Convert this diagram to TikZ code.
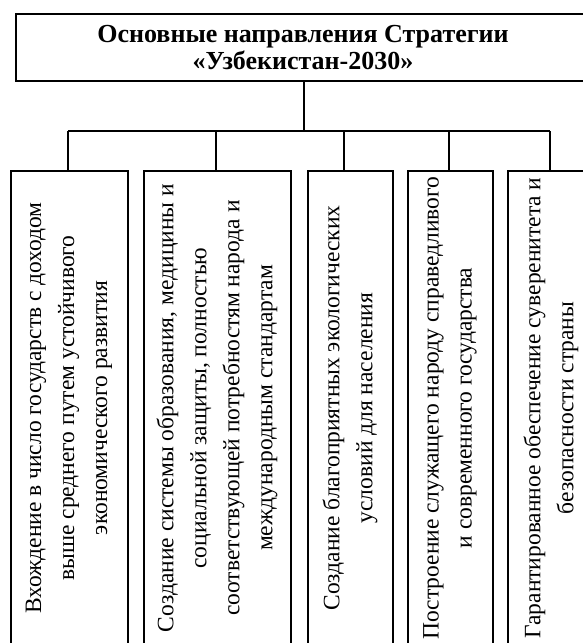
\documentclass[tikz,border=0pt]{standalone}
\usepackage{fontspec}
\setmainfont{Liberation Serif}
\begin{document}
\begin{tikzpicture}[x=1pt,y=-1pt,
  box/.style={draw, line width=1.9pt, inner sep=0pt, anchor=north west},
  conn/.style={line width=1.3pt},
  vtext/.style={rotate=90, align=center, inner sep=0pt, font=\fontsize{23.5}{33}\selectfont}]
\useasboundingbox (0,0) rectangle (583,643);
\clip (0,0) rectangle (583,643);
\node[box, minimum width=576pt, minimum height=67pt] (title) at (15,13) {};
\node[font=\bfseries\fontsize{26}{27}\selectfont, align=center, inner sep=0pt] (ttl) at (303,48) {Основные направления Стратегии\\«Узбекистан-2030»};
\node[box, minimum width=117pt, minimum height=476pt] (b1) at (10,170) {};
\node[box, minimum width=147pt, minimum height=476pt] (b2) at (143,170) {};
\node[box, minimum width=85pt, minimum height=476pt] (b3) at (307,170) {};
\node[box, minimum width=85pt, minimum height=476pt] (b4) at (407,170) {};
\node[box, minimum width=86pt, minimum height=476pt] (b5) at (507,170) {};
\node[vtext] (t1) at (69,408) {Вхождение в число государств с доходом\\выше среднего путем устойчивого\\экономического развития};
\node[vtext] (t2) at (217,408) {Создание системы образования, медицины и\\социальной защиты, полностью\\соответствующей потребностям народа и\\международным стандартам};
\node[vtext] (t3) at (350,408) {Создание благоприятных экологических\\условий для населения};
\node[vtext] (t4) at (450,408) {Построение служащего народу справедливого\\и современного государства};
\node[vtext] (t5) at (551,408) {Гарантированное обеспечение суверенитета и\\безопасности страны};
\coordinate (d1) at (68,131);
\coordinate (d2) at (216,131);
\coordinate (d3) at (344,131);
\coordinate (d4) at (449,131);
\coordinate (d5) at (550,131);
\draw[conn] (title.south) -- (title.south |- d1);
\draw[conn] (d1) -- (d5);
\draw[conn] (d1) -- (d1 |- b1.north);
\draw[conn] (d2) -- (d2 |- b2.north);
\draw[conn] (d3) -- (d3 |- b3.north);
\draw[conn] (d4) -- (d4 |- b4.north);
\draw[conn] (d5) -- (d5 |- b5.north);
\end{tikzpicture}
\end{document}
